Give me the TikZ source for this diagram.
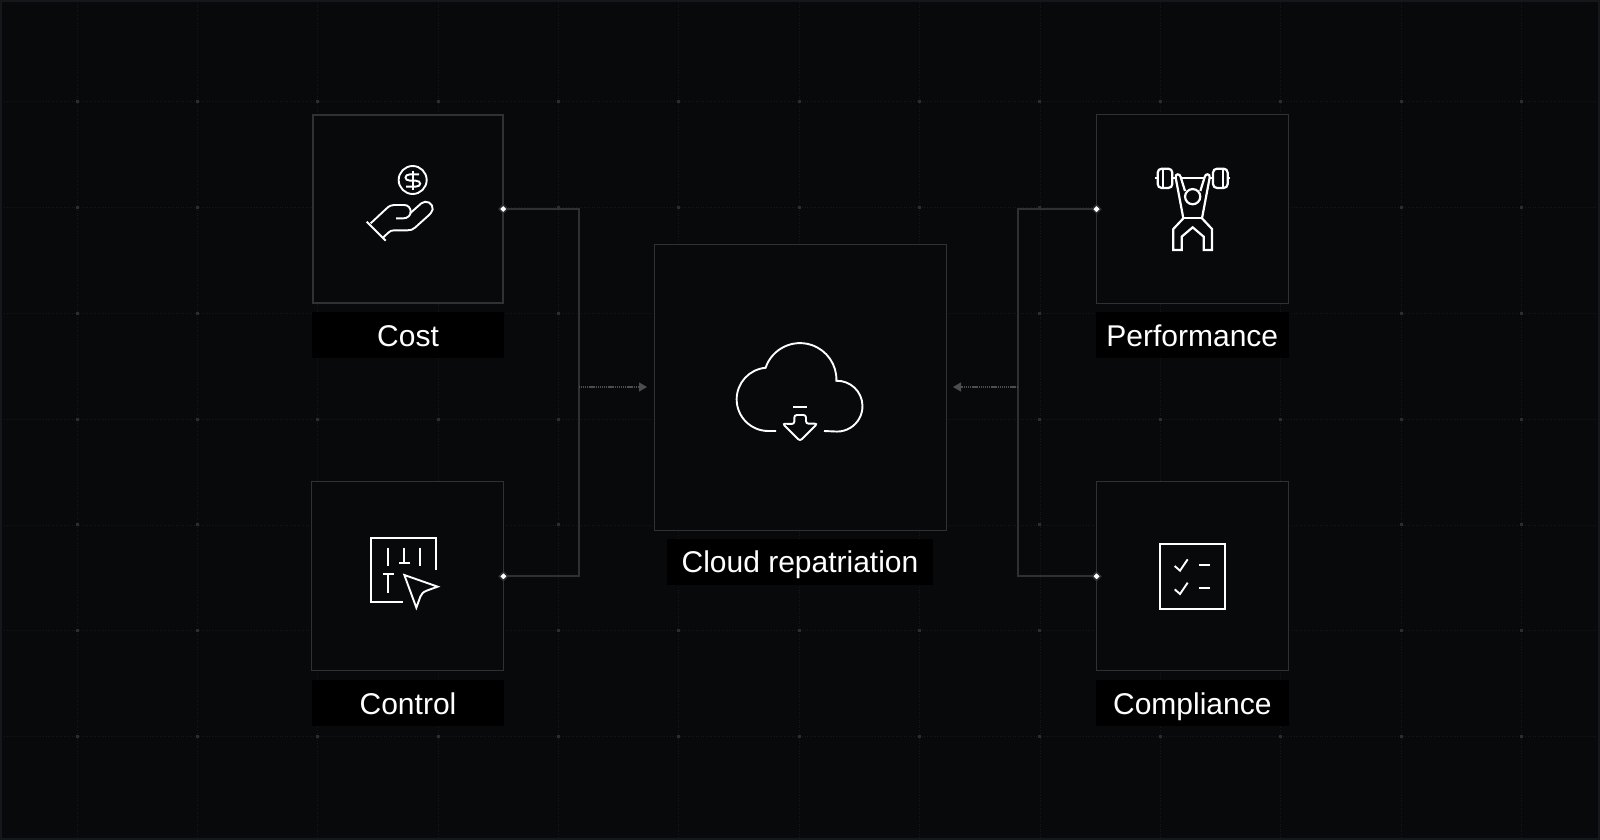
\documentclass[tikz,border=0pt]{standalone}
\usepackage{fontspec}
\setmainfont{Liberation Sans}
\usetikzlibrary{arrows.meta,shapes.geometric}
\definecolor{bgc}{HTML}{07090B}
\definecolor{framec}{HTML}{14171B}
\definecolor{gridc}{HTML}{15171A}
\definecolor{gdot}{HTML}{2C2D2F}
\definecolor{boxc}{HTML}{2F3133}
\definecolor{wirec}{HTML}{2E3032}
\definecolor{arrc}{HTML}{4C4D4E}
\tikzset{
  cardbox/.style={draw=boxc,fill=bgc,line width=1.2pt,inner sep=0,outer sep=0,minimum width=191.5pt,minimum height=189pt},
  capbox/.style={fill=black,text=white,inner sep=0,outer sep=0,minimum width=192.5pt,minimum height=46pt,text height=24pt,text depth=2pt,font=\fontsize{30}{36}\selectfont},
  wire/.style={draw=wirec,line width=1.8pt,line join=miter},
  flow/.style={draw=arrc,line width=1.2pt,dash pattern=on 1.2pt off .7pt,-{Triangle[length=8pt,width=9pt,fill=arrc]}},
  port/.style={diamond,fill=white,draw=wirec,line width=1.4pt,inner sep=0,minimum size=9pt},
  ic/.style={draw=white,line width=1.9pt,line cap=butt,line join=miter},
  tiny/.style={x=0.33333pt,y=-0.33333pt}
}
\begin{document}
\begin{tikzpicture}[x=1pt,y=-1pt]
\useasboundingbox (0,0) rectangle (1600,840);
\fill[bgc] (0,0) rectangle (1600,840);
\draw[framec,line width=2pt] (1,1) rectangle (1599,839);
% grid
\foreach \k in {0,...,12}{
  \pgfmathsetmacro{\gx}{77+120.37*\k}
  \draw[gridc,line width=.8pt,dash pattern=on 1pt off 1.6pt] (\gx,2) -- (\gx,838);
}
\foreach \j in {0,...,6}{
  \pgfmathsetmacro{\gy}{101.7+105.8*\j}
  \draw[gridc,line width=.8pt,dash pattern=on 1pt off 1.6pt] (4,\gy) -- (1596,\gy);
}
\foreach \k in {0,...,12}{
  \foreach \j in {0,...,6}{
    \pgfmathsetmacro{\gx}{77+120.37*\k}
    \pgfmathsetmacro{\gy}{101.7+105.8*\j}
    \fill[gdot] (\gx-1.5,\gy-1.5) rectangle (\gx+1.5,\gy+1.5);
  }
}
% cards
\node[cardbox,line width=1.6pt,minimum width=190.5pt,minimum height=187.7pt] (cost) at (408,209) {};
\node[cardbox,line width=1pt] (control) at (407.7,576.3) {};
\node[cardbox,line width=1pt] (perf) at (1192.3,209.1) {};
\node[cardbox,line width=1pt] (comp) at (1192.3,576.3) {};
\node[cardbox,line width=1pt,minimum width=292pt,minimum height=286pt] (hub) at (800,387) {};
% captions
\node[capbox] (lcost) at (408,335) {Cost};
\node[capbox] (lcontrol) at (408,703) {Control};
\node[capbox] (lperf) at (1192.3,335) {Performance};
\node[capbox] (lcomp) at (1192.3,703) {Compliance};
\node[capbox,minimum width=266pt] (lhub) at (800,561.5) {Cloud repatriation};
% connectors
\coordinate (lj) at (579,387);
\coordinate (rj) at (1018.3,387);
\draw[wire] (cost.east) -| (lj) |- (control.east);
\draw[wire] (perf.west) -| (rj) |- (comp.west);
\draw[flow,shorten >=7pt] (lj) -- (hub.west);
\draw[flow,shorten >=7pt] (rj) -- (hub.east);
\node[port] (pcost) at (cost.east) {};
\node[port] (pcontrol) at (control.east) {};
\node[port] (pperf) at (perf.west) {};
\node[port] (pcomp) at (comp.west) {};
% cost icon
\begin{scope}[shift={(350,150)},tiny,ic]
  \draw (188,90) circle[radius=14pt];
  \draw (188,62) -- (188,120);
  \draw (207,73) -- (180,73) .. controls (162,73) and (162,92) .. (180,92) -- (197,92) .. controls (215,92) and (215,110) .. (197,110) -- (168,110);
  \draw (50,215) -- (107,272);
  \draw (62,220) -- (108,177) .. controls (118,167) and (125,165) .. (132,165) -- (163,165) .. controls (175,165) and (182,175) .. (182,185) .. controls (182,197) and (172,205) .. (160,205) -- (138,205);
  \draw (180,190) -- (214,160) .. controls (228,148) and (250,160) .. (248,178) .. controls (247,186) and (240,192) .. (235,197) -- (195,233) .. controls (188,239) and (182,241) .. (172,241) -- (132,241) .. controls (125,241) and (120,243) .. (115,248) -- (100,262);
\end{scope}
% control icon
\begin{scope}[shift={(355,525)},tiny,ic]
  \draw (243,135) -- (243,38) -- (47,38) -- (47,232) -- (143,232);
  \draw (100,68) -- (100,122);
  \draw (195,68) -- (195,122);
  \draw (148,68) -- (148,115) (133,115) -- (165,115);
  \draw (83,148) -- (118,148) (100,148) -- (100,205);
  \draw (148,150) -- (248,185) -- (215,197) .. controls (205,201) and (199,206) .. (196,215) -- (184,248) -- cycle;
\end{scope}
% performance icon
\begin{scope}[shift={(1140,155)},tiny,ic,line width=2.2pt]
  \draw (45,70) -- (53,70);
  \draw (271,70) -- (263,70);
  \draw[rounded corners=4pt] (53,41) rectangle (97,99);
  \draw[rounded corners=4pt] (219,41) rectangle (263,99);
  \draw (68,41) -- (68,99) (248,41) -- (248,99);
  \draw (97,70) -- (108,70) (122,70) -- (194,70) (208,70) -- (219,70);
  \draw (130,190) -- (107,68) .. controls (105,55) and (120,55) .. (122,66) -- (135,108);
  \draw (186,190) -- (209,68) .. controls (211,55) and (196,55) .. (194,66) -- (181,108);
  \draw (158,125) circle[radius=7.6pt];
  \draw (130,190) -- (186,190);
  \draw (130,190) -- (100,222) -- (100,285) -- (125,285) -- (125,245) -- (158,217) -- (191,245) -- (191,285) -- (216,285) -- (216,222) -- (186,190);
\end{scope}
% compliance icon
\begin{scope}[shift={(1140,530)},tiny,ic]
  \draw[line width=2.2pt] (60,42) rectangle (255,237);
  \draw (104,108) -- (120,122) -- (143,88);
  \draw (104,178) -- (120,192) -- (143,158);
  \draw[line width=2.2pt] (176,104) -- (211,104) (176,174) -- (211,174);
\end{scope}
% cloud icon
\begin{scope}[shift={(700,320)},tiny,ic]
  \draw (228,333) -- (205,333) arc[start angle=270,end angle=95,radius=31.67pt] arc[start angle=161.2,end angle=-2,radius=36.4pt] arc[start angle=91.5,end angle=-90,radius=25.4pt] -- (372,333);
  \draw (280,260) -- (320,260);
  \draw[rounded corners=2.5pt] (283,312) -- (283,285) -- (318,285) -- (318,311) -- (352,311) -- (300,363) -- (248,311) -- cycle;
\end{scope}
\end{tikzpicture}
\end{document}
